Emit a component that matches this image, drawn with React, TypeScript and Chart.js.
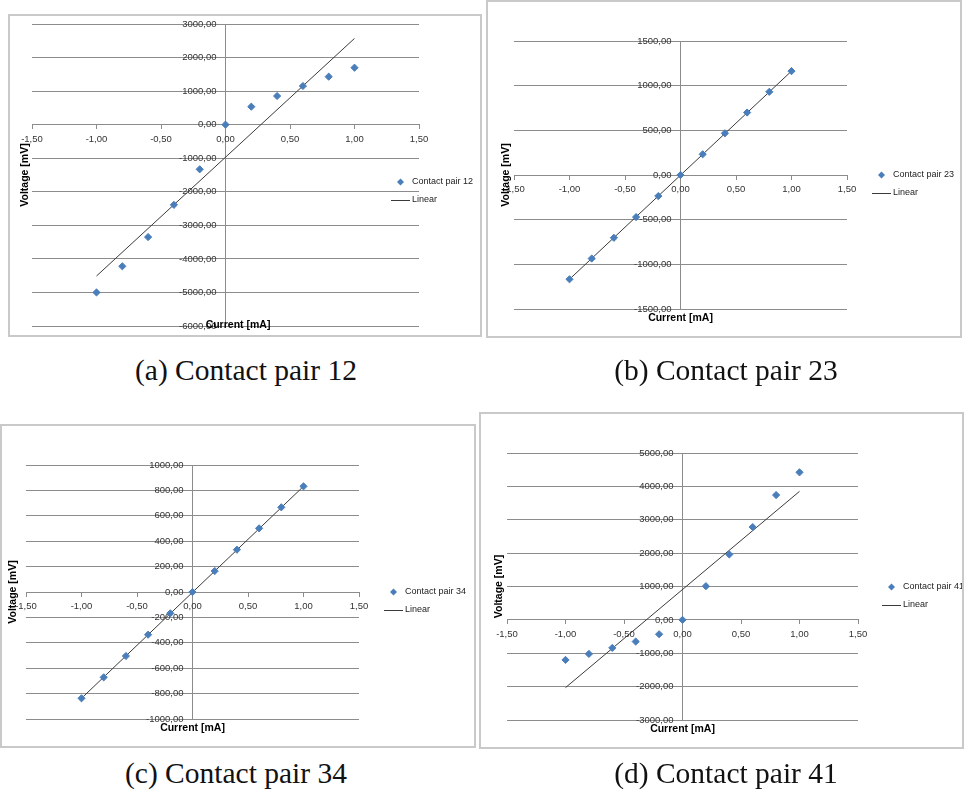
import React, { useEffect, useRef } from 'react';
import { Chart, registerables } from 'chart.js';

Chart.register(...registerables);

// ---- data ----
const currentMA = [-1, -0.8, -0.6, -0.4, -0.2, 0, 0.2, 0.4, 0.6, 0.8, 1];
const pair12 = [-5000, -4220, -3350, -2390, -1330, 0, 536, 854, 1152, 1430, 1698];
const pair23 = [-1167, -935, -703, -471, -236, 0, 232, 467, 699, 931, 1163];
const pair34 = [-837, -672, -504, -336, -168, 0, 165, 333, 501, 667, 832];
const pair41 = [-1200, -1020, -840, -650, -430, 0, 1010, 1960, 2780, 3740, 4420];

const fitX = [-1, 1];
const fit12 = [-4510, 2570];
const fit23 = [-1167, 1163];
const fit34 = [-837, 832];
const fit41 = [-2030, 3850];

const seriesNames = ['Contact pair 12', 'Contact pair 23', 'Contact pair 34', 'Contact pair 41'];
const captions = ['(a) Contact pair 12', '(b) Contact pair 23', '(c) Contact pair 34', '(d) Contact pair 41'];
const fitName = 'Linear';
const xTitle = 'Current [mA]';
const yTitle = 'Voltage [mV]';

const xRange = [-1.5, 1.5, 0.5];
const yRanges = [
  [-6000, 3000, 1000],
  [-1500, 1500, 500],
  [-1000, 1000, 200],
  [-3000, 5000, 1000],
];

// ---- layout / styles ----
const FONT = "'Liberation Sans', Arial, sans-serif";
const MARKER = '#4a7ebb';
const GRID = '#8c8c8c';
const TICK_SIZE = 9.5;
const Y_LABEL_GAP = 9; // px between y tick labels and the vertical axis line

const layouts = [
  { box: { left: 8, top: 14, width: 474, height: 323 }, pad: { left: 24, right: 63, top: 10, bottom: 11 },
    yTitleDx: -7, xTitleDx: 12.5, xTitleDy: -1, legendX: 383, legendY: 168 },
  { box: { left: 486, top: 0, width: 476, height: 338 }, pad: { left: 28, right: 115, top: 41, bottom: 29 },
    yTitleDx: -8, xTitleDx: 0, xTitleDy: 9, legendX: 386, legendY: 175 },
  { box: { left: 0, top: 424, width: 476, height: 324 }, pad: { left: 26, right: 117, top: 41, bottom: 29 },
    yTitleDx: -13, xTitleDx: 0, xTitleDy: 9, legendX: 384, legendY: 168 },
  { box: { left: 479, top: 412, width: 485, height: 337 }, pad: { left: 28, right: 106, top: 41, bottom: 29 },
    yTitleDx: -8, xTitleDx: 0, xTitleDy: 9, legendX: 403, legendY: 175 },
];
const captionPos = [
  { cx: 246, cy: 370 },
  { cx: 726, cy: 370 },
  { cx: 236, cy: 773 },
  { cx: 726, cy: 773 },
];

const fmt = (v: number) => Number(v).toFixed(2).replace('.', ',');

const decor = {
  id: 'decor',
  afterDraw(chart: any, _args: any, opts: any) {
    const { ctx, chartArea } = chart;
    ctx.save();
    ctx.fillStyle = '#000';
    ctx.font = `bold 10.5px ${FONT}`;
    ctx.textAlign = 'center';
    ctx.textBaseline = 'middle';
    ctx.save();
    ctx.translate(chartArea.left + opts.yTitleDx, (chartArea.top + chartArea.bottom) / 2);
    ctx.rotate(-Math.PI / 2);
    ctx.fillText(yTitle, 0, 0);
    ctx.restore();
    ctx.fillText(xTitle, (chartArea.left + chartArea.right) / 2 + opts.xTitleDx, chartArea.bottom + opts.xTitleDy);
    ctx.font = `9px ${FONT}`;
    ctx.textAlign = 'left';
    chart.data.datasets.forEach((ds: any, i: number) => {
      const y = opts.legendY + i * 18;
      const x = opts.legendX;
      if (ds.showLine) {
        ctx.strokeStyle = ds.borderColor;
        ctx.lineWidth = 1;
        ctx.beginPath();
        ctx.moveTo(x, y + 0.5);
        ctx.lineTo(x + 19, y + 0.5);
        ctx.stroke();
      } else {
        const r = 3.5;
        const cx = x + 9.5;
        ctx.fillStyle = ds.backgroundColor;
        ctx.beginPath();
        ctx.moveTo(cx, y - r);
        ctx.lineTo(cx + r, y);
        ctx.lineTo(cx, y + r);
        ctx.lineTo(cx - r, y);
        ctx.closePath();
        ctx.fill();
      }
      ctx.fillStyle = '#222';
      ctx.fillText(ds.label, x + 21, y);
    });
    ctx.restore();
  },
};

const dataFor = [pair12, pair23, pair34, pair41];
const fitFor = [fit12, fit23, fit34, fit41];

function Panel({ idx }: { idx: number }) {
  const ref = useRef<HTMLCanvasElement>(null);
  const L = layouts[idx];
  useEffect(() => {
    const [yMin, yMax, yStep] = yRanges[idx];
    const plotW = L.box.width - L.pad.left - L.pad.right;
    // y tick labels sit just left of the value-0 axis line
    const labelAnchor = -Y_LABEL_GAP * (xRange[1] - xRange[0]) / plotW;
    const chart = new Chart(ref.current as HTMLCanvasElement, {
      type: 'scatter',
      data: {
        datasets: [
          {
            label: seriesNames[idx],
            data: currentMA.map((x, i) => ({ x, y: dataFor[idx][i] })),
            backgroundColor: MARKER,
            borderColor: MARKER,
            pointStyle: 'rectRot',
            pointRadius: 3.6,
            borderWidth: 1,
            showLine: false,
          },
          {
            label: fitName,
            data: fitX.map((x, i) => ({ x, y: fitFor[idx][i] })),
            borderColor: '#3a3a3a',
            backgroundColor: '#3a3a3a',
            borderWidth: 1,
            pointRadius: 0,
            showLine: true,
          },
        ],
      } as any,
      options: {
        animation: false,
        responsive: false,
        devicePixelRatio: 1,
        layout: { padding: L.pad },
        plugins: {
          legend: { display: false },
          tooltip: { enabled: false },
          decor: { yTitleDx: L.yTitleDx, xTitleDx: L.xTitleDx, xTitleDy: L.xTitleDy, legendX: L.legendX, legendY: L.legendY },
        } as any,
        scales: {
          x: {
            type: 'linear',
            position: { y: 0 } as any,
            min: xRange[0],
            max: xRange[1],
            ticks: { stepSize: xRange[2], callback: (v: any) => fmt(v), font: { size: TICK_SIZE, family: FONT }, color: '#333', padding: 5 },
            grid: {
              drawOnChartArea: true,
              drawTicks: true,
              tickLength: 4,
              color: (c: any) => (c.tick && c.tick.value === 0 ? GRID : 'rgba(0,0,0,0)'),
              tickColor: GRID,
            },
            border: { color: GRID },
          },
          y: {
            type: 'linear',
            position: { x: labelAnchor } as any,
            min: yMin,
            max: yMax,
            ticks: { stepSize: yStep, callback: (v: any) => fmt(v), font: { size: TICK_SIZE, family: FONT }, color: '#333', padding: 0 },
            grid: { color: GRID, drawTicks: false },
            border: { display: false },
          },
        },
      },
      plugins: [decor],
    });
    return () => chart.destroy();
  }, [idx]);
  return (
    <>
      <canvas
        ref={ref}
        width={L.box.width}
        height={L.box.height}
        style={{ position: 'absolute', left: L.box.left, top: L.box.top, width: L.box.width, height: L.box.height }}
      />
      <div
        style={{
          position: 'absolute',
          left: L.box.left,
          top: L.box.top,
          width: L.box.width,
          height: L.box.height,
          boxSizing: 'border-box',
          border: '2px solid #c9c9c9',
          pointerEvents: 'none',
        }}
      />
    </>
  );
}

export default function App() {
  return (
    <div style={{ position: 'absolute', left: 0, top: 0, width: 964, height: 794, background: '#fff', overflow: 'hidden' }}>
      {[0, 1, 2, 3].map((i) => (
        <Panel key={i} idx={i} />
      ))}
      {captions.map((c, i) => (
        <div
          key={c}
          style={{
            position: 'absolute',
            left: captionPos[i].cx - 200,
            top: captionPos[i].cy - 17,
            width: 400,
            height: 34,
            lineHeight: '34px',
            textAlign: 'center',
            fontFamily: "'Liberation Serif', 'DejaVu Serif', serif",
            fontSize: 29.5,
            color: '#111',
            whiteSpace: 'nowrap',
          }}
        >
          {c}
        </div>
      ))}
    </div>
  );
}
